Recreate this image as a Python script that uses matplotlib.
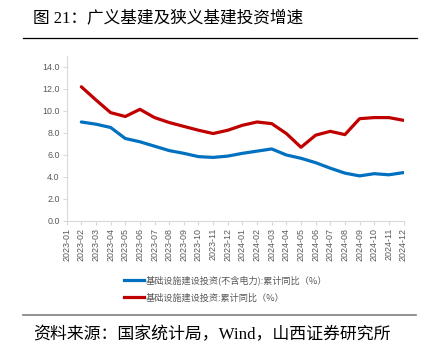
import matplotlib
matplotlib.use("Agg")
import matplotlib.pyplot as plt
import numpy as np
from matplotlib.lines import Line2D

# monthly cumulative YoY (%), 2023-01 has no print
months = ['2023-01', '2023-02', '2023-03', '2023-04', '2023-05', '2023-06',
          '2023-07', '2023-08', '2023-09', '2023-10', '2023-11', '2023-12',
          '2024-01', '2024-02', '2024-03', '2024-04', '2024-05', '2024-06',
          '2024-07', '2024-08', '2024-09', '2024-10', '2024-11', '2024-12']
narrow = [np.nan, 9.0, 8.8, 8.5, 7.5, 7.2, 6.8, 6.4, 6.15, 5.85, 5.78, 5.9,
          6.15, 6.35, 6.55, 6.0, 5.7, 5.3, 4.8, 4.35, 4.1, 4.3, 4.2, 4.4]
broad = [np.nan, 12.2, 11.0, 9.85, 9.5, 10.15, 9.4, 8.95, 8.6, 8.25, 7.95, 8.25,
         8.7, 9.0, 8.85, 7.95, 6.7, 7.8, 8.15, 7.85, 9.3, 9.4, 9.4, 9.15]
names = ['基础设施建设投资(不含电力):累计同比（%）', '基础设施建设投资:累计同比（%）']
colors = ['#0070C0', '#C00000']

title = '图 21：广义基建及狭义基建投资增速'
source = '资料来源：国家统计局，Wind，山西证券研究所'

cjk = ['Noto Sans CJK SC', 'DejaVu Sans']
mixed = ['Liberation Serif', 'Noto Sans CJK SC']
gray = '#595959'

fig = plt.figure(figsize=(4.35, 3.55), dpi=100)
ax = fig.add_axes([0.1533, 0.3775, 0.7743, 0.4648])

x = np.arange(len(months))
ax.plot(x, narrow, color=colors[0], lw=2.3, solid_joinstyle='round', solid_capstyle='round')
ax.plot(x, broad, color=colors[1], lw=2.3, solid_joinstyle='round', solid_capstyle='round')

ax.set_xlim(0, len(months) - 1)
ax.set_ylim(0, 15)
ax.set_yticks(np.arange(0, 15, 2))
ax.set_yticklabels(['%.1f' % v for v in np.arange(0, 15, 2)])
ax.set_xticks(x)
ax.set_xticklabels(months, rotation=90)

for s in ['top', 'right']:
    ax.spines[s].set_visible(False)
for s in ['left', 'bottom']:
    ax.spines[s].set_color('#D9D9D9')
    ax.spines[s].set_linewidth(0.8)
ax.tick_params(axis='both', colors='#D9D9D9', length=3, width=0.8, labelcolor=gray,
               labelsize=6.4, pad=2)
for lab in ax.get_xticklabels() + ax.get_yticklabels():
    lab.set_family('Liberation Sans')

handles = [Line2D([], [], color=c, lw=2.3) for c in colors]
fig.legend(handles, names, loc='upper left', bbox_to_anchor=(0.265, 0.247),
           frameon=False, prop={'family': cjk, 'size': 6.6}, labelcolor=gray,
           handlelength=2.2, handletextpad=0.2, labelspacing=0.85)

fig.text(0.076, 0.949, title, family=mixed, fontsize=12, va='center', ha='left')
fig.add_artist(Line2D([0.053, 0.959], [0.893, 0.893], color='black', lw=0.9))
fig.add_artist(Line2D([0.053, 0.957], [0.113, 0.113], color='#7F7F7F', lw=1.2))
fig.text(0.076, 0.056, source, family=mixed, fontsize=12.2, va='center', ha='left')

fig.savefig('out.png', dpi=100)
